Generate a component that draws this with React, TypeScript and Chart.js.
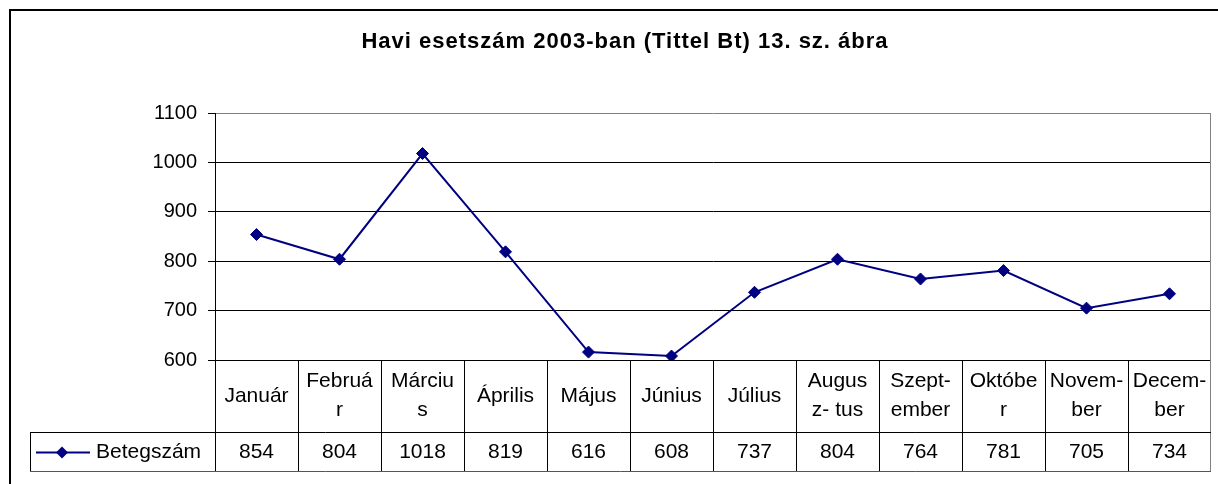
import React, { useEffect, useRef } from "react";
import { Chart, registerables } from "chart.js";
Chart.register(...registerables);

const title = "Havi esetszám 2003-ban (Tittel Bt) 13. sz. ábra";
const seriesName = "Betegszám";
const months: string[][] = [
  ["Január"],
  ["Februá", "r"],
  ["Márciu", "s"],
  ["Április"],
  ["Május"],
  ["Június"],
  ["Július"],
  ["Augus", "z- tus"],
  ["Szept-", "ember"],
  ["Októbe", "r"],
  ["Novem-", "ber"],
  ["Decem-", "ber"],
];
const values = [854, 804, 1018, 819, 616, 608, 737, 804, 764, 781, 705, 734];
const yTicks = [600, 700, 800, 900, 1000, 1100];

const FONT = "Liberation Sans, Arial, sans-serif";
const NAVY = "#000080";

export default function App() {
  const ref = useRef<HTMLCanvasElement>(null);
  useEffect(() => {
    document.body.style.margin = "0";
    const framePlugin = {
      id: "frame",
      beforeDraw(chart: any) {
        const ctx = chart.ctx;
        ctx.save();
        ctx.fillStyle = "#fff";
        ctx.fillRect(0, 0, chart.width, chart.height);
        ctx.strokeStyle = "#000";
        ctx.lineWidth = 2;
        ctx.strokeRect(10, 10, chart.width + 20, chart.height + 20);
        ctx.restore();
      },
      afterDraw(chart: any) {
        const ctx = chart.ctx;
        const { left, right, top, bottom } = chart.chartArea;
        const xs = chart.scales.x;
        const n = months.length;
        const colW = (right - left) / n;
        const rowMid = bottom + 72;
        const tableBottom = bottom + 111;
        const keyLeft = 30;
        ctx.save();
        // title
        ctx.fillStyle = "#000";
        ctx.font = `bold 22px ${FONT}`;
        (ctx as any).letterSpacing = "1px";
        ctx.textAlign = "center";
        ctx.textBaseline = "middle";
        ctx.fillText(title, 625, 42);
        (ctx as any).letterSpacing = "0px";
        // right border of plot + table (gray)
        ctx.lineWidth = 1;
        ctx.strokeStyle = "#808080";
        ctx.beginPath();
        ctx.moveTo(Math.round(right) - 0.5, top);
        ctx.lineTo(Math.round(right) - 0.5, tableBottom);
        ctx.stroke();
        // table lines
        ctx.strokeStyle = "#000";
        ctx.beginPath();
        for (let i = 0; i < n; i++) {
          const x = Math.round(left + i * colW) + 0.5;
          ctx.moveTo(x, bottom);
          ctx.lineTo(x, tableBottom);
        }
        ctx.moveTo(keyLeft + 0.5, rowMid + 0.5);
        ctx.lineTo(right, rowMid + 0.5);
        ctx.moveTo(keyLeft + 0.5, rowMid);
        ctx.lineTo(keyLeft + 0.5, tableBottom);
        ctx.stroke();
        ctx.strokeStyle = "#555";
        ctx.beginPath();
        ctx.moveTo(keyLeft, tableBottom + 0.5);
        ctx.lineTo(right, tableBottom + 0.5);
        ctx.stroke();
        // category labels
        ctx.fillStyle = "#000";
        ctx.font = `21px ${FONT}`;
        ctx.textAlign = "center";
        ctx.textBaseline = "middle";
        const catMid = (bottom + rowMid) / 2;
        months.forEach((lines, i) => {
          const cx = xs.getPixelForValue(i);
          if (lines.length === 1) {
            ctx.fillText(lines[0], cx, catMid);
          } else {
            ctx.fillText(lines[0], cx, catMid - 15);
            ctx.fillText(lines[1], cx, catMid + 14);
          }
        });
        // values
        const valMid = (rowMid + tableBottom) / 2 + 1;
        values.forEach((v, i) => {
          ctx.fillText(String(v), xs.getPixelForValue(i), valMid);
        });
        // legend key
        ctx.strokeStyle = NAVY;
        ctx.lineWidth = 2;
        ctx.beginPath();
        ctx.moveTo(36, valMid);
        ctx.lineTo(90, valMid);
        ctx.stroke();
        ctx.fillStyle = NAVY;
        ctx.beginPath();
        ctx.moveTo(62, valMid - 6);
        ctx.lineTo(68, valMid);
        ctx.lineTo(62, valMid + 6);
        ctx.lineTo(56, valMid);
        ctx.closePath();
        ctx.fill();
        ctx.fillStyle = "#000";
        ctx.textAlign = "left";
        ctx.fillText(seriesName, 96, valMid);
        ctx.restore();
      },
    };
    const chart = new Chart(ref.current as HTMLCanvasElement, {
      type: "line",
      data: {
        labels: months.map((m) => m.join("")),
        datasets: [
          {
            label: seriesName,
            data: values,
            borderColor: NAVY,
            backgroundColor: NAVY,
            borderWidth: 2,
            pointStyle: "rectRot",
            pointRadius: 6,
            pointBorderWidth: 1,
            tension: 0,
          },
        ],
      },
      options: {
        responsive: false,
        animation: false,
        layout: { padding: { left: 0, right: 2, top: 113, bottom: 124 } },
        plugins: {
          legend: { display: false },
          tooltip: { enabled: false },
          title: { display: false },
        },
        scales: {
          x: {
            offset: true,
            grid: { display: false },
            ticks: { display: false },
            border: { display: false },
            afterFit: (s: any) => {
              s.height = 0;
            },
          },
          y: {
            min: 600,
            max: 1100,
            afterBuildTicks: (s: any) => {
              s.ticks = yTicks.map((v) => ({ value: v }));
            },
            ticks: {
              font: { family: FONT, size: 20 },
              color: "#000",
              padding: 11,
              callback: (v: any) => String(v),
            },
            grid: {
              color: (c: any) => (c.tick && c.tick.value === 1100 ? "#808080" : "#000"),
              tickColor: "#000",
              tickLength: 7,
              lineWidth: 1,
            },
            border: { color: "#000", width: 1 },
            afterFit: (s: any) => {
              s.width = 215;
            },
          },
        },
      } as any,
      plugins: [framePlugin],
    });
    return () => chart.destroy();
  }, []);
  return (
    <div style={{ width: 1218, height: 484 }}>
      <canvas ref={ref} width={1218} height={484} style={{ display: "block" }} />
    </div>
  );
}
